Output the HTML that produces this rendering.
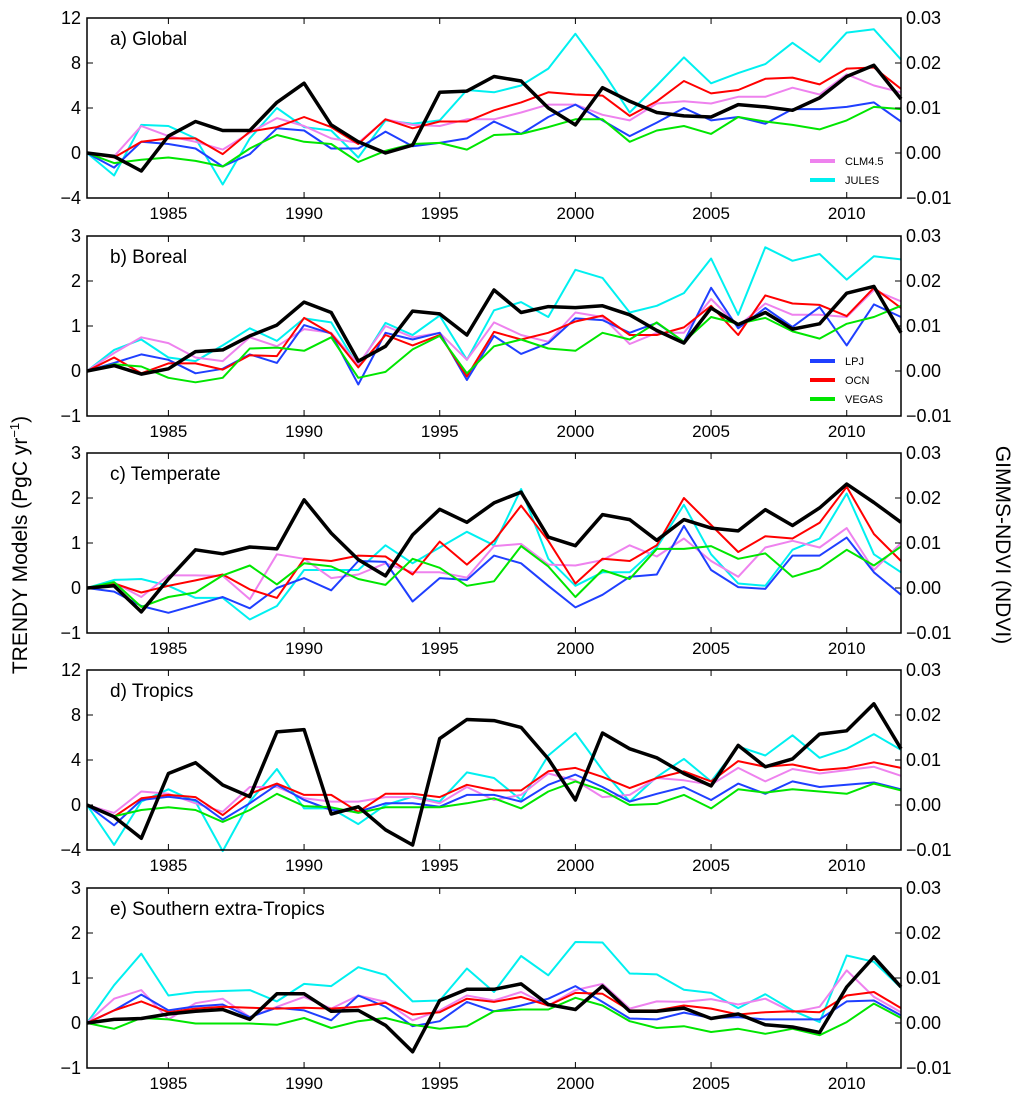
<!DOCTYPE html>
<html><head><meta charset="utf-8"><title>TRENDY vs GIMMS-NDVI</title>
<style>
html,body{margin:0;padding:0;background:#fff;}
svg{display:block;font-family:"Liberation Sans","DejaVu Sans",sans-serif;}
</style></head>
<body>
<svg id="chart" width="1024" height="1102" viewBox="0 0 1024 1102" xmlns="http://www.w3.org/2000/svg">
<text x="0" y="0" transform="translate(27,545) rotate(-90)" text-anchor="middle" font-size="21">TRENDY Models (PgC yr<tspan dy="-8" font-size="13">−1</tspan><tspan dy="8">)</tspan></text>
<text x="0" y="0" transform="translate(996,545) rotate(90)" text-anchor="middle" font-size="21">GIMMS-NDVI (NDVI)</text>
</svg>
<script>
const years = [1982,1983,1984,1985,1986,1987,1988,1989,1990,1991,1992,1993,1994,1995,1996,1997,1998,1999,2000,2001,2002,2003,2004,2005,2006,2007,2008,2009,2010,2011,2012];
const xTicks = [1985,1990,1995,2000,2005,2010];
const seriesNames = ["CLM4.5","JULES","LPJ","OCN","VEGAS"];

// a) Global (PgC/yr) and NDVI
const globalCLM = [0,-0.3,2.4,1.5,1.0,0.3,1.8,3.1,2.4,1.3,0.9,3.0,2.5,2.4,3.0,3.0,3.6,4.3,4.3,3.4,2.9,4.4,4.6,4.4,5.0,5.0,5.8,5.2,7.0,6.0,5.4];
const globalJULES = [0,-2.0,2.5,2.4,1.3,-2.8,1.3,4.0,2.3,2.0,-0.4,2.9,2.6,2.9,5.6,5.4,6.0,7.5,10.6,7.3,3.6,6.0,8.5,6.2,7.1,7.9,9.8,8.1,10.7,11.0,8.3];
const globalLPJ = [0,-1.3,1.0,0.8,0.4,-1.2,-0.1,2.2,2.0,0.4,0.4,1.9,0.6,0.9,1.3,2.8,1.7,3.2,4.3,2.9,1.5,2.7,4.0,2.9,3.2,2.6,3.9,3.9,4.1,4.5,2.8];
const globalOCN = [0,-0.4,1.0,1.3,1.3,-0.1,1.9,2.3,3.2,2.3,0.8,3.0,2.2,2.8,2.8,3.8,4.5,5.4,5.2,5.1,3.3,4.6,6.4,5.3,5.6,6.6,6.7,6.1,7.5,7.6,5.7];
const globalVEGAS = [0,-0.9,-0.6,-0.4,-0.7,-1.2,0.4,1.6,1.0,0.8,-0.8,0.2,0.8,0.9,0.3,1.6,1.7,2.3,3.0,3.0,1.0,2.0,2.4,1.7,3.2,2.8,2.5,2.1,2.9,4.1,3.9];
const globalNDVI = [0,-0.00075,-0.004,0.00375,0.007,0.005,0.005,0.01125,0.0155,0.00625,0.0025,0,0.00175,0.0135,0.01375,0.017,0.016,0.01,0.00625,0.0145,0.0115,0.009,0.00825,0.008,0.01075,0.01025,0.0095,0.01225,0.017,0.0195,0.012];

// b) Boreal
const borealCLM = [0,0.40,0.75,0.62,0.30,0.22,0.75,0.55,0.93,0.85,0.15,1.00,0.75,0.85,0.25,1.08,0.80,0.65,1.30,1.20,0.60,0.85,0.85,1.60,1.00,1.50,1.25,1.25,1.20,1.80,1.55];
const borealJULES = [0,0.47,0.70,0.30,0.22,0.57,0.95,0.67,1.17,1.08,0.10,1.07,0.80,1.23,0.25,1.35,1.53,1.20,2.25,2.07,1.30,1.45,1.73,2.50,1.25,2.75,2.45,2.60,2.03,2.55,2.48];
const borealLPJ = [0,0.18,0.37,0.25,-0.05,0.05,0.37,0.18,1.02,0.83,-0.30,0.85,0.70,0.85,-0.20,0.78,0.38,0.62,1.17,1.13,0.85,1.07,0.65,1.85,0.95,1.40,0.98,1.42,0.57,1.48,1.20];
const borealOCN = [0,0.30,-0.05,0.17,0.17,0.03,0.35,0.33,1.18,0.83,0.08,0.80,0.57,0.80,-0.12,0.87,0.70,0.85,1.10,1.23,0.80,0.80,0.97,1.45,0.80,1.68,1.50,1.47,1.22,1.85,1.40];
const borealVEGAS = [0,0.15,0.10,-0.15,-0.25,-0.15,0.50,0.52,0.45,0.75,-0.15,-0.02,0.48,0.78,-0.05,0.55,0.70,0.50,0.45,0.85,0.70,1.08,0.65,1.20,1.05,1.18,0.88,0.72,1.05,1.20,1.45];
const borealNDVI = [0,0.0012,-0.0007,0.0005,0.0043,0.0047,0.0078,0.0102,0.0153,0.013,0.0022,0.0055,0.0133,0.0127,0.008,0.018,0.013,0.0143,0.0141,0.0145,0.0125,0.009,0.0062,0.014,0.0103,0.013,0.0093,0.0105,0.0173,0.0188,0.0085];

// c) Temperate
const temperateCLM = [0,0.12,-0.2,0.28,0.28,0.27,-0.25,0.75,0.65,0.22,0.3,0.55,0.35,0.35,0.23,0.93,0.98,0.52,0.5,0.62,0.95,0.7,1.1,0.6,0.25,0.9,1.05,0.9,1.33,0.4,1.0];
const temperateJULES = [0,0.18,0.2,0.05,-0.22,-0.22,-0.7,-0.4,0.4,0.4,0.4,0.95,0.55,0.9,1.25,0.95,2.2,0.65,0.05,0.35,0.35,0.9,1.85,0.75,0.1,0.05,0.85,1.1,2.1,0.75,0.35];
const temperateLPJ = [0,-0.08,-0.4,-0.55,-0.38,-0.2,-0.45,0.0,0.22,-0.05,0.6,0.58,-0.3,0.22,0.18,0.72,0.55,0.05,-0.43,-0.15,0.25,0.3,1.38,0.4,0.02,-0.02,0.72,0.72,1.12,0.35,-0.15];
const temperateOCN = [0,0.1,-0.1,0.05,0.17,0.3,-0.03,-0.22,0.65,0.6,0.72,0.7,0.3,1.03,0.52,1.05,1.83,1.05,0.1,0.65,0.6,0.95,2.0,1.4,0.8,1.15,1.1,1.45,2.25,1.2,0.6];
const temperateVEGAS = [0,0.13,-0.42,-0.2,-0.1,0.28,0.5,0.08,0.55,0.48,0.2,0.07,0.65,0.45,0.05,0.15,0.93,0.48,-0.2,0.4,0.2,0.87,0.87,0.93,0.65,0.77,0.25,0.43,0.85,0.5,0.92];
const temperateNDVI = [0,0.0005,-0.0053,0.002,0.0085,0.0076,0.0091,0.0087,0.0196,0.0122,0.0063,0.0027,0.0118,0.0175,0.0146,0.0189,0.0213,0.0113,0.0094,0.0163,0.0152,0.0106,0.0152,0.0133,0.0127,0.0174,0.0139,0.0178,0.0231,0.019,0.0146];

// d) Tropics
const tropicsCLM = [0,-0.7,1.2,1.0,0.15,-0.6,1.6,1.6,0.6,0.3,0.3,0.7,0.7,0.15,1.6,0.44,0.9,2.8,2.2,0.7,0.9,2.4,2.2,1.8,3.3,2.1,3.2,2.8,3.1,3.4,2.6];
const tropicsJULES = [0,-3.55,0.3,1.4,0.3,-4.1,0.3,3.2,-0.3,-0.3,-1.7,0,0.74,0.3,2.9,2.4,0.44,4.4,6.4,3.1,0.3,2.5,4.1,2.1,5.2,4.4,6.2,4.2,5.0,6.3,4.9];
const tropicsLPJ = [0,-1.8,0.44,0.74,0.44,-1.3,0.15,1.8,0.44,-0.44,-0.6,0.15,0.15,-0.15,0.9,0.9,0.3,1.8,2.7,1.6,0.3,1.0,1.6,0.44,1.9,1.0,2.1,1.6,1.8,2.0,1.4];
const tropicsOCN = [0,-1.04,0.6,0.9,0.7,-0.9,1.0,1.9,0.9,0.9,-0.6,1.0,1.0,0.7,1.8,1.3,1.3,3.0,3.3,2.5,1.5,2.4,3.0,2.1,3.9,3.4,3.6,3.1,3.3,3.8,3.3];
const tropicsVEGAS = [0,-1.0,-0.44,-0.2,-0.44,-1.5,-0.44,1.0,-0.1,-0.2,-0.7,-0.2,-0.2,-0.2,0.15,0.6,-0.3,1.2,2.1,1.3,0,0.1,0.9,-0.3,1.4,1.1,1.4,1.2,1.0,1.9,1.3];
const tropicsNDVI = [0,-0.0026,-0.0074,0.007,0.0094,0.00445,0.00185,0.01625,0.01675,-0.002,-0.0004,-0.0055,-0.0089,0.01475,0.019,0.01875,0.01725,0.01025,0.0011,0.016,0.0125,0.0105,0.007,0.00425,0.01325,0.0085,0.01025,0.01575,0.0165,0.0225,0.0125];

// e) Southern extra-Tropics
const southCLM = [0,0.54,0.73,0.08,0.44,0.54,0.13,0.36,0.58,0.32,0.61,0.47,0.06,0.28,0.61,0.5,0.69,0.39,0.73,0.87,0.32,0.48,0.47,0.53,0.41,0.54,0.24,0.36,1.17,0.58,0.24];
const southJULES = [0,0.84,1.54,0.61,0.69,0.71,0.73,0.48,0.87,0.82,1.24,1.07,0.48,0.5,1.21,0.69,1.49,1.06,1.8,1.79,1.1,1.08,0.74,0.67,0.33,0.64,0.28,0.02,1.5,1.36,0.78];
const southLPJ = [0,0.28,0.63,0.28,0.37,0.41,0.13,0.34,0.28,0.06,0.61,0.36,-0.07,0.04,0.47,0.26,0.39,0.54,0.82,0.47,0.1,0.08,0.23,0.11,0.13,0.08,0.08,0.08,0.48,0.5,0.17];
const southOCN = [0,0.28,0.48,0.24,0.32,0.36,0.34,0.32,0.34,0.32,0.36,0.45,0.19,0.24,0.54,0.47,0.58,0.39,0.67,0.65,0.28,0.28,0.39,0.32,0.19,0.24,0.26,0.24,0.61,0.69,0.33];
const southVEGAS = [0,-0.13,0.11,0.08,-0.01,-0.01,-0.01,-0.04,0.11,-0.11,0.04,0.11,-0.04,-0.13,-0.07,0.26,0.3,0.3,0.56,0.39,0.04,-0.11,-0.07,-0.2,-0.13,-0.24,-0.13,-0.27,0.02,0.43,0.11];
const southNDVI = [0,0.0008,0.001,0.002,0.0026,0.003,0.0008,0.0065,0.0065,0.0026,0.0028,-0.0005,-0.0064,0.005,0.0075,0.0075,0.0087,0.0041,0.003,0.0082,0.0026,0.0026,0.0033,0.001,0.002,-0.0004,-0.0009,-0.0021,0.008,0.0147,0.008];

const bigTicks = [12,8,4,0,-4];
const smallTicks = [3,2,1,0,-1];
const ndviTicks = [0.03,0.02,0.01,0.00,-0.01];

const NS = "http://www.w3.org/2000/svg";
const svg = document.getElementById("chart");
const X0 = 87, X1 = 901, PH = 180;
const COLORS = ["#ee82ee","#00f0f0","#1f3fff","#ff0000","#00e600"];
const DRAW_ORDER = [1,0,2,3,4];

function xScale(yr){ return X0 + (yr - years[0]) / (years[years.length-1] - years[0]) * (X1 - X0); }

function mk(tag, attrs, parent){
  const el = document.createElementNS(NS, tag);
  for (const k in attrs) el.setAttribute(k, attrs[k]);
  (parent || svg).appendChild(el);
  return el;
}

const panels = [
  {key:"global", title:"a) Global", top:18, ymin:-4, ymax:12, ticks:bigTicks, models:[globalCLM,globalJULES,globalLPJ,globalOCN,globalVEGAS], ndvi:globalNDVI, legend:[0,1]},
  {key:"boreal", title:"b) Boreal", top:236, ymin:-1, ymax:3, ticks:smallTicks, models:[borealCLM,borealJULES,borealLPJ,borealOCN,borealVEGAS], ndvi:borealNDVI, legend:[2,3,4]},
  {key:"temperate", title:"c) Temperate", top:453, ymin:-1, ymax:3, ticks:smallTicks, models:[temperateCLM,temperateJULES,temperateLPJ,temperateOCN,temperateVEGAS], ndvi:temperateNDVI, legend:[]},
  {key:"tropics", title:"d) Tropics", top:670, ymin:-4, ymax:12, ticks:bigTicks, models:[tropicsCLM,tropicsJULES,tropicsLPJ,tropicsOCN,tropicsVEGAS], ndvi:tropicsNDVI, legend:[]},
  {key:"southern", title:"e) Southern extra-Tropics", top:888, ymin:-1, ymax:3, ticks:smallTicks, models:[southCLM,southJULES,southLPJ,southOCN,southVEGAS], ndvi:southNDVI, legend:[]}
];

panels.forEach(function(p){
  const g = mk("g", {});
  
  
  const yL = v => p.top + PH - (v - p.ymin) / (p.ymax - p.ymin) * PH;
  const yR = v => p.top + PH - (v + 0.01) / 0.04 * PH;

  // series
  DRAW_ORDER.forEach(function(si){
    const pts = p.models[si].map((v,i) => xScale(years[i]).toFixed(1) + "," + yL(v).toFixed(1)).join(" ");
    const line = mk("polyline", {points:pts, fill:"none", stroke:COLORS[si], "stroke-width":"2", "stroke-linejoin":"round"}, g);
    
    
  });
  const npts = p.ndvi.map((v,i) => xScale(years[i]).toFixed(1) + "," + yR(v).toFixed(1)).join(" ");
  const nl = mk("polyline", {points:npts, fill:"none", stroke:"#000", "stroke-width":"3.5", "stroke-linejoin":"round"}, g);
  
  

  // frame
  const fr = mk("rect", {x:X0, y:p.top, width:X1-X0, height:PH, fill:"none", stroke:"#000", "stroke-width":"1.5"}, g);
  
  

  // x ticks
  xTicks.forEach(function(t){
    const x = xScale(t);
    mk("line", {x1:x, x2:x, y1:p.top, y2:p.top+6, stroke:"#000", "stroke-width":"1"}, g);
    mk("line", {x1:x, x2:x, y1:p.top+PH, y2:p.top+PH-6, stroke:"#000", "stroke-width":"1"}, g);
    const tl = mk("text", {x:x, y:p.top+PH+21, "text-anchor":"middle", "font-size":"17"}, g);
    tl.textContent = String(t);
    
    
  });
  // left ticks
  p.ticks.forEach(function(t){
    const y = yL(t);
    mk("line", {x1:X0, x2:X0+6, y1:y, y2:y, stroke:"#000", "stroke-width":"1"}, g);
    const tl = mk("text", {x:X0-6, y:y+6, "text-anchor":"end", "font-size":"18"}, g);
    tl.textContent = t < 0 ? "\u2212" + Math.abs(t) : String(t);
    
    
  });
  // right ticks
  ndviTicks.forEach(function(t){
    const y = yR(t);
    mk("line", {x1:X1, x2:X1-6, y1:y, y2:y, stroke:"#000", "stroke-width":"1"}, g);
    const tl = mk("text", {x:X1+5, y:y+6, "text-anchor":"start", "font-size":"18"}, g);
    tl.textContent = t < 0 ? "\u2212" + Math.abs(t).toFixed(2) : t.toFixed(2);
    
    
  });
  // title
  const tt = mk("text", {x:110, y:p.top+27, "font-size":"19"}, g);
  tt.textContent = p.title;
  
  

  // legend
  const legTop = p.key === "global" ? 143 : 125;
  p.legend.forEach(function(si, k){
    const ly = p.top + legTop + k*19;
    const le = mk("g", {}, g);
    
    
    mk("line", {x1:810, x2:835, y1:ly, y2:ly, stroke:COLORS[si], "stroke-width":"4"}, le);
    const lt = mk("text", {x:845, y:ly+4, "font-size":"11"}, le);
    lt.textContent = seriesNames[si];
  });
});
</script>
</body></html>
